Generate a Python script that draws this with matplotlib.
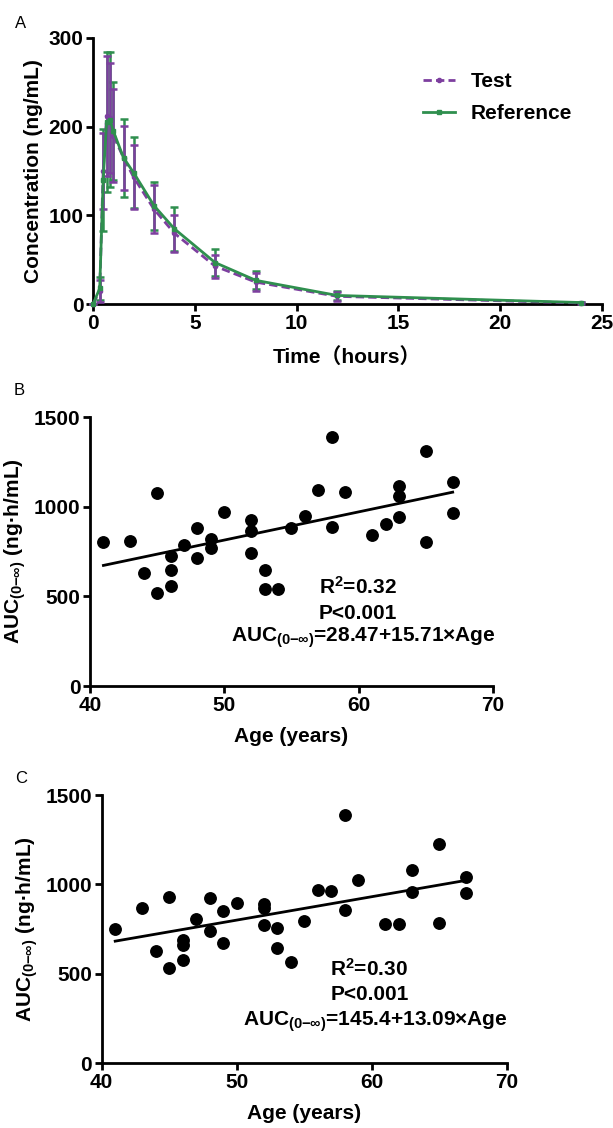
import matplotlib
matplotlib.use("Agg")
import matplotlib.pyplot as plt
from matplotlib.lines import Line2D

plt.rcParams["font.family"] = ["Liberation Sans", "Noto Sans CJK SC", "DejaVu Sans"]
plt.rcParams["font.weight"] = "bold"
plt.rcParams["mathtext.fontset"] = "custom"
plt.rcParams["mathtext.rm"] = "Liberation Sans:bold"
plt.rcParams["mathtext.it"] = "Liberation Sans:bold"
plt.rcParams["mathtext.bf"] = "Liberation Sans:bold"

# Panel A: mean concentration-time profiles (mean, SD)
times = [0, 0.33, 0.5, 0.67, 0.83, 1, 1.5, 2, 3, 4, 6, 8, 12, 24]
test_mean = [0, 15, 150, 212, 210, 190, 165, 143, 107, 80, 43, 25, 9, 1.5]
test_sd = [0, 12, 43, 68, 62, 52, 36, 36, 27, 21, 13, 10, 5, 1]
ref_mean = [0, 18, 140, 205, 208, 195, 165, 148, 111, 85, 47, 27, 10, 2]
ref_sd = [0, 13, 57, 79, 76, 55, 44, 40, 27, 25, 15, 10, 5, 1]

# Panel B: AUC vs age (test)
age_b = [41, 43, 44, 45, 45, 46, 46, 46, 47, 48, 48, 49, 49, 50, 52, 52, 52,
         53, 53, 54, 55, 56, 57, 58, 58, 59, 61, 62, 63, 63, 63, 65, 65, 67, 67]
auc_b = [805, 810, 632, 1074, 521, 727, 645, 559, 787, 883, 712, 821, 771, 973,
         924, 862, 744, 649, 540, 540, 883, 947, 1091, 1387, 887, 1084, 840, 902,
         1116, 1061, 945, 1312, 802, 1140, 965]
fit_b = (28.47, 15.71)

# Panel C: AUC vs age (reference)
age_c = [41, 43, 44, 45, 45, 46, 46, 46, 47, 48, 48, 49, 49, 50, 52, 52, 52,
         53, 53, 54, 55, 56, 57, 58, 58, 59, 61, 62, 63, 63, 65, 65, 67, 67]
auc_c = [751, 870, 626, 932, 533, 689, 661, 578, 807, 922, 738, 853, 669, 896,
         889, 868, 771, 753, 643, 566, 794, 971, 960, 1390, 857, 1027, 779, 779,
         1081, 956, 1224, 783, 1040, 952]
fit_c = (145.4, 13.09)

purple = "#7d3f9f"
green = "#2f8f4e"
fs = 15

fig = plt.figure(figsize=(6.13, 11.28), dpi=100)


def style_axis(ax):
    for side in ("top", "right"):
        ax.spines[side].set_visible(False)
    for side in ("left", "bottom"):
        ax.spines[side].set_linewidth(2.0)
    ax.tick_params(direction="out", length=5, width=2.0, labelsize=15, pad=2)
    for lab in ax.get_xticklabels() + ax.get_yticklabels():
        lab.set_fontweight("bold")


# ---- A ----
axA = fig.add_axes([0.1517, 0.7302, 0.830, 0.2363])
axA.plot(times, test_mean, color=purple, lw=2.0, ls=(0, (3, 1.5)), marker="o",
         ms=3, zorder=3, clip_on=False)
axA.plot(times, ref_mean, color=green, lw=2.0, marker="s", ms=3, zorder=4,
         clip_on=False)
axA.errorbar(times, ref_mean, yerr=ref_sd, fmt="none", ecolor=green,
             elinewidth=1.8, capsize=2.6, capthick=1.8, zorder=2, clip_on=False)
axA.errorbar(times, test_mean, yerr=test_sd, fmt="none", ecolor=purple,
             elinewidth=1.8, capsize=2.6, capthick=1.8, zorder=3, clip_on=False)
axA.set_xlim(0, 25)
axA.set_ylim(0, 300)
axA.set_xticks([0, 5, 10, 15, 20, 25])
axA.set_yticks([0, 100, 200, 300])
axA.set_xlabel("Time（hours）", fontsize=fs, fontweight="bold", labelpad=10)
axA.set_ylabel("Concentration (ng/mL)", fontsize=fs, fontweight="bold", labelpad=4)
style_axis(axA)
handles = [
    Line2D([], [], color=purple, lw=2.0, ls=(0, (3, 1.5)), marker="o", ms=3),
    Line2D([], [], color=green, lw=2.0, marker="s", ms=3),
]
axA.legend(handles, ["Test", "Reference"], loc="upper left",
           bbox_to_anchor=(0.648, 0.87), frameon=False, borderpad=0,
           borderaxespad=0, handlelength=1.55, handletextpad=0.75,
           labelspacing=0.6, prop={"size": fs, "weight": "bold"})
fig.text(0.024, 0.979, "A", fontsize=12, fontweight="normal", va="center")


# ---- B and C ----
def scatter_panel(rect, ages, aucs, fit, r2, text_pos, letter, letter_pos):
    ax = fig.add_axes(rect)
    ax.scatter(ages, aucs, s=68, color="black", zorder=3, clip_on=False)
    a0, a1 = min(ages), max(ages)
    ax.plot([a0, a1], [fit[0] + fit[1] * a0, fit[0] + fit[1] * a1],
            color="black", lw=2.0, zorder=2)
    ax.set_xlim(40, 70)
    ax.set_ylim(0, 1500)
    ax.set_xticks([40, 50, 60, 70])
    ax.set_yticks([0, 500, 1000, 1500])
    ax.set_xlabel("Age (years)", fontsize=fs, fontweight="bold", labelpad=9)
    ax.set_ylabel(r"AUC$_{(0{-}\infty)}$ (ng·h/mL)", fontsize=fs,
                  fontweight="bold", labelpad=4)
    style_axis(ax)
    tx, ty = text_pos
    ax.text(tx, ty[0], r"R$^{2}$=" + r2, transform=ax.transAxes, ha="center",
            va="center", fontsize=fs, fontweight="bold")
    ax.text(tx, ty[1], "P<0.001", transform=ax.transAxes, ha="center",
            va="center", fontsize=fs, fontweight="bold")
    ax.text(tx + 0.015, ty[2],
            r"AUC$_{(0{-}\infty)}$=" + f"{fit[0]}+{fit[1]}×Age",
            transform=ax.transAxes, ha="center", va="center", fontsize=fs,
            fontweight="bold")
    fig.text(letter_pos[0], letter_pos[1], letter, fontsize=12,
             fontweight="normal", va="center")
    return ax


scatter_panel([0.1468, 0.3918, 0.6574, 0.2385], age_b, auc_b, fit_b, "0.32",
              (0.664, (0.369, 0.271, 0.178)), "B", (0.022, 0.654))
scatter_panel([0.1659, 0.0576, 0.6607, 0.2376], age_c, auc_c, fit_c, "0.30",
              (0.661, (0.353, 0.254, 0.154)), "C", (0.024, 0.310))

fig.savefig("out.png", dpi=100)
